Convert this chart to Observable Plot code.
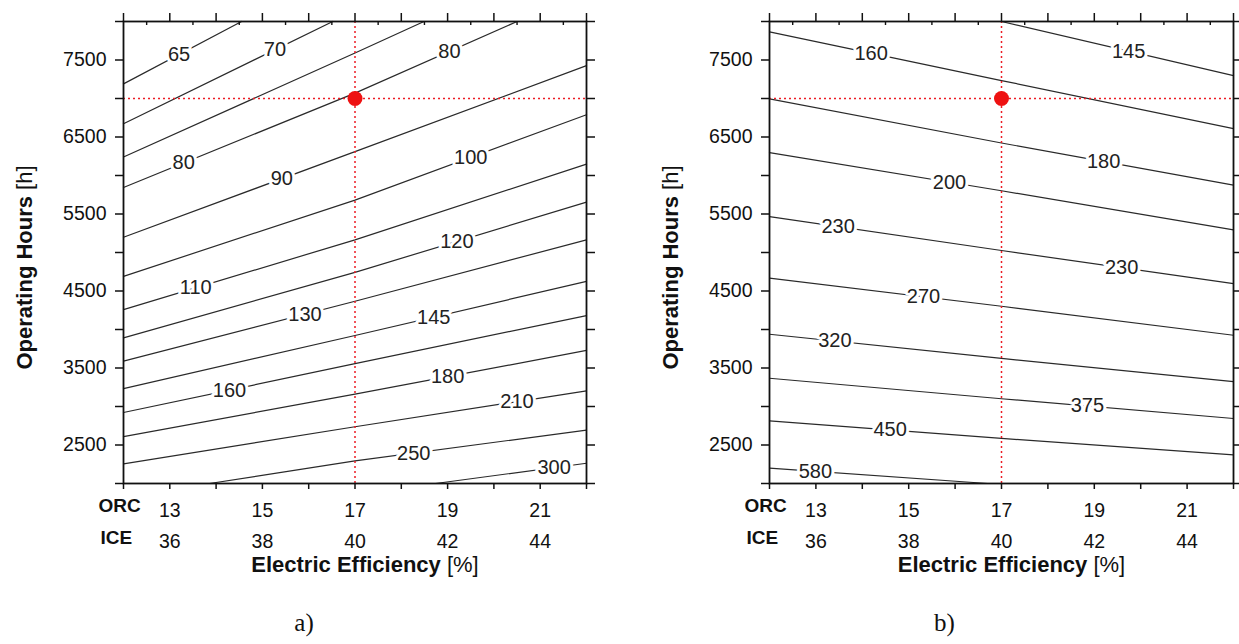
<!DOCTYPE html>
<html><head><meta charset="utf-8">
<script src="https://cdn.jsdelivr.net/npm/d3@7"></script>
<script src="https://cdn.jsdelivr.net/npm/@observablehq/plot@0.6"></script>
<style>
html,body{margin:0;padding:0;background:#fff}
#wrap{position:relative;width:1239px;height:644px;overflow:hidden;font-family:"Liberation Sans",Arial,sans-serif}
#wrap svg{position:absolute;top:0}
.clabel text{paint-order:stroke;stroke-linejoin:round}
</style></head>
<body><div id="wrap"></div>
<script>
// ---- axes / ticks ----
const orcTicks = [12,13,14,15,16,17,18,19,20,21,22];
const orcMinor = [12.5,13.5,14.5,15.5,16.5,17.5,18.5,19.5,20.5,21.5];
const orcLabels = [13,15,17,19,21];
const iceLabels = [36,38,40,42,44];
const hourTicks = [2000,2500,3000,3500,4000,4500,5000,5500,6000,6500,7000,7500,8000];
const hourLabels = [2500,3500,4500,5500,6500,7500];
const xDomain = [12,22];
const yDomain = [2000,8000];
const refORC = [17];
const refHours = [7000];
const rowNames = ["ORC","ICE"];
const xTitle = ["Electric Efficiency ", "[%]"];
const yTitle = ["Operating Hours ", "[h]"];
const captions = ["a)","b)"];

// ---- panel a contours (ORC efficiency %, operating hours) ----
const contoursA = [
  {level: 65,  pts: [[12,7190],[14.55,8000]]},
  {level: 70,  pts: [[12,6672],[16.52,8000]]},
  {level: 75,  pts: [[12,6241],[17,7590],[18.49,8000]]},
  {level: 80,  pts: [[12,5845],[17,7070],[20.5,8000]]},
  {level: 90,  pts: [[12,5198],[17,6310],[22,7427]]},
  {level: 100, pts: [[12,4690],[17,5681],[22,6789]]},
  {level: 110, pts: [[12,4259],[17,5164],[22,6147]]},
  {level: 120, pts: [[12,3892],[17,4742],[22,5655]]},
  {level: 130, pts: [[12,3590],[17,4367],[22,5164]]},
  {level: 145, pts: [[12,3233],[17,3922],[22,4625]]},
  {level: 160, pts: [[12,2922],[17,3556],[22,4181]]},
  {level: 180, pts: [[12,2608],[17,3160],[22,3728]]},
  {level: 210, pts: [[12,2254],[17,2737],[22,3203]]},
  {level: 250, pts: [[13.86,2000],[17,2293],[22,2694]]},
  {level: 300, pts: [[18.74,2000],[22,2263]]}
];
const labelsA = [[65,13.2],[70,15.27],[80,13.3],[80,19.04],[90,15.42],[100,19.5],[110,13.56],[120,19.2],[130,15.92],[145,18.7],[160,14.29],[180,19.0],[210,20.5],[250,18.27],[300,21.3]];

// ---- panel b contours ----
const contoursB = [
  {level: 145, pts: [[17,8000],[22,7297]]},
  {level: 160, pts: [[12,7866],[17,7233],[22,6608]]},
  {level: 180, pts: [[12,6996],[17,6422],[22,5875]]},
  {level: 200, pts: [[12,6297],[17,5802],[22,5293]]},
  {level: 230, pts: [[12,5466],[17,5026],[22,4595]]},
  {level: 270, pts: [[12,4668],[17,4302],[22,3925]]},
  {level: 320, pts: [[12,3938],[17,3624],[22,3324]]},
  {level: 375, pts: [[12,3367],[17,3101],[22,2844]]},
  {level: 450, pts: [[12,2814],[17,2586],[22,2372]]},
  {level: 580, pts: [[12,2200],[16.7,2000]]}
];
const labelsB = [[145,19.74],[160,14.19],[180,19.2],[200,15.88],[230,13.48],[230,19.59],[270,15.32],[320,13.41],[375,18.85],[450,14.6],[580,12.99]];

function interp(pts, x) {
  for (let i = 0; i < pts.length - 1; i++) {
    const [x0,y0] = pts[i], [x1,y1] = pts[i+1];
    if (x >= x0 && x <= x1) return y0 + (y1 - y0) * (x - x0) / (x1 - x0);
  }
  return pts[pts.length-1][1];
}

const FONT = "Liberation Sans, Arial, sans-serif";
const H = 644, MT = 21, FB = 483; // frame bottom
const MB = H - FB;
const frameH = FB - MT;

function panel({contours, labels, width, marginLeft, marginRight, caption, captionDx}) {
  const rows = contours.flatMap((c, k) => c.pts.map(([orc, h]) => ({id: k, level: c.level, orc, h})));
  const labelRows = labels.map(([level, orc]) => {
    const c = contours.find(d => d.level === level);
    return {level, orc, h: interp(c.pts, orc)};
  });
  const svg = Plot.plot({
    width, height: H,
    marginLeft, marginRight, marginTop: MT, marginBottom: MB,
    x: {domain: xDomain},
    y: {domain: yDomain},
    style: {fontFamily: FONT, background: "transparent", overflow: "visible", color: "#111"},
    marks: [
      Plot.line(rows, {x: "orc", y: "h", z: "id", stroke: "#2a2a2a", strokeWidth: 1.2}),
      Plot.ruleX(refORC, {stroke: "#ec1c24", strokeWidth: 1.5, strokeDasharray: "2,3"}),
      Plot.ruleY(refHours, {stroke: "#ec1c24", strokeWidth: 1.5, strokeDasharray: "2,3"}),
      Plot.text(labelRows, {x: "orc", y: "h", text: d => String(d.level), fontSize: 20, fill: "#222",
        stroke: "white", strokeWidth: 6, className: "clabel"}),
      Plot.dot(refORC.map((o, i) => ({orc: o, h: refHours[i]})), {x: "orc", y: "h", r: 7.5, fill: "#ee1111", stroke: "none"}),
      Plot.frame({stroke: "#111", strokeWidth: 1.8}),
      Plot.axisY(hourTicks, {anchor: "left", tickSize: 8, tickPadding: 9, strokeWidth: 1.5,
        tickFormat: d => hourLabels.includes(d) ? String(d) : "", fontSize: 19.5, label: null}),
      Plot.axisY(hourTicks, {anchor: "right", tickSize: 8, strokeWidth: 1.5, fill: "none", label: null}),
      Plot.axisX(orcTicks, {anchor: "top", tickSize: 9, strokeWidth: 1.5, fill: "none", label: null}),
      Plot.ruleX(orcMinor, {insetBottom: frameH - 4, stroke: "#111", strokeWidth: 1.4}),
      Plot.axisX(orcTicks, {anchor: "bottom", tickSize: 6, tickPadding: 14, strokeWidth: 1.5,
        tickFormat: d => orcLabels.includes(d) ? String(d) : "", fontSize: 19.5, label: null}),
      Plot.axisX(orcLabels, {anchor: "bottom", tickSize: 0, tickPadding: 51,
        tickFormat: d => String(iceLabels[orcLabels.indexOf(d)]), fontSize: 19.5, label: null}),
      Plot.text([rowNames[0]], {frameAnchor: "bottom-left", dx: -25, dy: 28, textAnchor: "start", fontWeight: "bold", fontSize: 19}),
      Plot.text([rowNames[1]], {frameAnchor: "bottom-left", dx: -23, dy: 60, textAnchor: "start", fontWeight: "bold", fontSize: 19}),
      Plot.text([xTitle.join("")], {frameAnchor: "bottom", textAnchor: "middle", dx: 10, dy: 88, fontSize: 22, className: "xtitle"}),
      Plot.text([yTitle.join("")], {frameAnchor: "left", textAnchor: "middle", dx: -99, dy: 15, rotate: -90, fontSize: 22, className: "ytitle"}),
      Plot.text([caption], {frameAnchor: "bottom", textAnchor: "middle", dx: captionDx, dy: 147, fontSize: 25, fontFamily: "Liberation Serif, Times New Roman, serif"})
    ]
  });
  // mixed weight titles: bold name, normal unit
  for (const [cls, parts] of [["xtitle", xTitle], ["ytitle", yTitle]]) {
    d3.select(svg).selectAll(`.${cls} text`).each(function() {
      const t = d3.select(this);
      t.text(null);
      t.append("tspan").attr("font-weight", "bold").text(parts[0]);
      t.append("tspan").attr("font-weight", "normal").text(parts[1]);
    });
  }
  return svg;
}

const wrap = document.getElementById("wrap");
const a = panel({contours: contoursA, labels: labelsA, width: 620, marginLeft: 123, marginRight: 34, caption: captions[0], captionDx: -51});
a.style.left = "0px";
wrap.appendChild(a);
const b = panel({contours: contoursB, labels: labelsB, width: 619, marginLeft: 149, marginRight: 6, caption: captions[1], captionDx: -57});
b.style.left = "620px";
wrap.appendChild(b);
</script>
</body></html>
